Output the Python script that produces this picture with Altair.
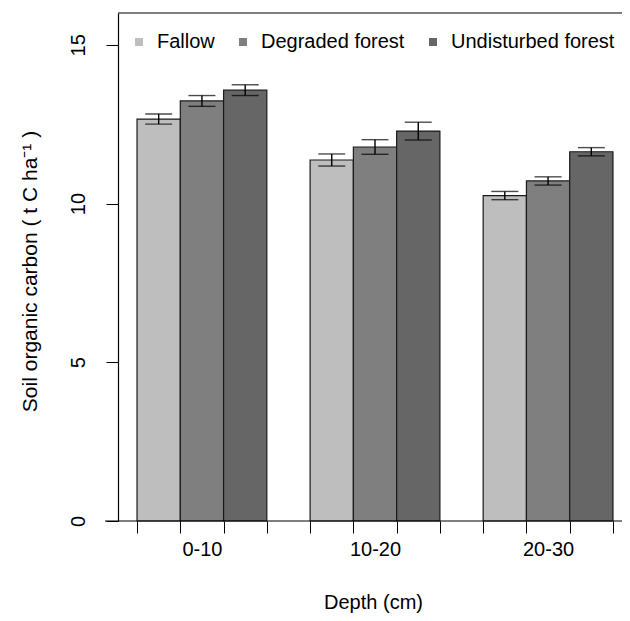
import altair as alt
import pandas as pd

depths = ["0-10", "10-20", "20-30"]
types = ["Fallow", "Degraded forest", "Undisturbed forest"]
colors = ["#BEBEBE", "#7F7F7F", "#666666"]
means = [
    [12.66, 13.23, 13.57],
    [11.37, 11.78, 12.28],
    [10.25, 10.71, 11.63],
]
ses = [
    [0.16, 0.17, 0.17],
    [0.19, 0.23, 0.28],
    [0.13, 0.13, 0.13],
]

# R barplot(beside=TRUE) layout: bar width 1, space 1 between groups
rows = []
for g, d in enumerate(depths):
    for t, ty in enumerate(types):
        left = 1 + 4 * g + t
        m = means[g][t]
        s = ses[g][t]
        rows.append(dict(depth=d, type=ty, left=left, right=left + 1,
                         center=left + 0.5, mean=m, lo=m - s, hi=m + s))
df = pd.DataFrame(rows)

edges = sorted({float(v) for v in df["left"]} | {float(v) for v in df["right"]})
centers = [2.5 + 4 * g for g in range(len(depths))]
label_expr = " : ".join(
    [f"datum.value == {c} ? '{d}'" for c, d in zip(centers, depths)]) + " : ''"
tick_values = sorted(edges + centers)

FONT = "Liberation Sans"
xscale = alt.Scale(domain=[0.56, 12.44], range=[0, 514], nice=False, zero=False)
yscale = alt.Scale(domain=[0, 16], nice=False, zero=True)

xaxis = alt.Axis(
    values=tick_values, tickCount=100, labelExpr=label_expr, grid=False,
    tickSize=12,
    tickColor={"condition": {"test": "datum.value % 1 != 0", "value": "transparent"},
               "value": "black"},
    labelPadding=6, labelBaseline="top", labelOverlap=False, labelBound=False,
    labelFlush=False, labelFontSize=20, labelFont=FONT, labelColor="black",
    domain=False, title="Depth (cm)", titleFont=FONT, titleFontSize=20,
    titleFontWeight="normal", titleColor="black", titleBaseline="alphabetic",
    titleY=87, titleX=255, titleAnchor="middle",
)
yaxis = alt.Axis(
    values=[0, 5, 10, 15], grid=False, tickSize=12, tickColor="black",
    labelAngle=-90, labelAlign="center", labelBaseline="alphabetic",
    labelPadding=22, labelFontSize=20, labelFont=FONT, labelColor="black",
    domainColor="black", domainWidth=1.2,
    title="Soil organic carbon ( t C ha⁻¹ )", titleFont=FONT, titleFontSize=21,
    titleFontWeight="normal", titleColor="black", titleAngle=-90,
    titleBaseline="alphabetic", titleAlign="center", titleX=-82, titleY=258,
)

base = alt.Chart(df)

bars = base.mark_rect(stroke="#1a1a1a", strokeWidth=1.2).encode(
    x=alt.X("left:Q", scale=xscale, axis=xaxis),
    x2="right:Q",
    y=alt.Y("mean:Q", scale=yscale, axis=yaxis),
    y2=alt.datum(0),
    fill=alt.Fill("type:N", scale=alt.Scale(domain=types, range=colors),
                  sort=types,
                  legend=alt.Legend(
                      title=None, orient="none", direction="horizontal",
                      legendX=11, legendY=19, symbolType="square", symbolSize=64,
                      symbolStrokeWidth=0, labelFont=FONT, labelFontSize=20,
                      labelColor="black", labelOffset=8, columnPadding=18,
                      labelLimit=0, padding=0)),
)

err = base.mark_rule(color="black", strokeWidth=1.4).encode(
    x="center:Q", y="lo:Q", y2="hi:Q")
cap_hi = base.mark_tick(orient="horizontal", size=27, thickness=1.4, color="black").encode(
    x="center:Q", y="hi:Q")
cap_lo = base.mark_tick(orient="horizontal", size=27, thickness=1.4, color="black").encode(
    x="center:Q", y="lo:Q")

frame = alt.Chart(alt.Data(values=[{"v": 0}])).mark_rule(color="black", strokeWidth=1.2).encode(
    y=alt.datum(16), x=alt.value(0), x2=alt.value(514))
baseline = alt.Chart(alt.Data(values=[{"v": 0}])).mark_rule(color="black", strokeWidth=1.2).encode(
    y=alt.datum(0), x=alt.value(-13), x2=alt.value(514))

chart = alt.layer(bars, err, cap_hi, cap_lo, frame, baseline).properties(
    width=504, height=508,
    padding={"left": 110, "top": 5, "right": 0, "bottom": 92},
    autosize=alt.AutoSizeParams(type="none"),
).configure_view(stroke=None).configure_axis(domainColor="black")

chart.save("out.html", embed_options={"renderer": "svg", "actions": False})
